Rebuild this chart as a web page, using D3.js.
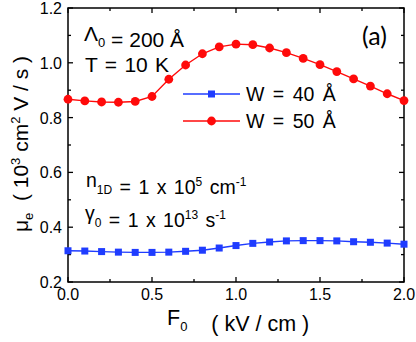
<!DOCTYPE html>
<html>
<head>
<meta charset="utf-8">
<script src="https://cdn.jsdelivr.net/npm/d3@7"></script>
<style>
  body { margin: 0; background: #fff; }
  svg { display: block; font-family: "Liberation Sans", Arial, sans-serif; }
</style>
</head>
<body>
<svg id="chart" width="416" height="342"></svg>
<script>
// field values F0 (kV/cm)
const fieldVals = d3.range(21).map(i => +(i * 0.1).toFixed(1));
// mobility, W = 40 A
const mobW40 = [0.314, 0.313, 0.311, 0.309, 0.308, 0.308, 0.309, 0.312, 0.316, 0.324,
  0.333, 0.341, 0.346, 0.350, 0.351, 0.351, 0.350, 0.347, 0.345, 0.342, 0.338];
// mobility, W = 50 A
const mobW50 = [0.867, 0.861, 0.857, 0.856, 0.859, 0.877, 0.940, 0.992, 1.033, 1.058,
  1.068, 1.066, 1.054, 1.037, 1.016, 0.993, 0.968, 0.941, 0.915, 0.887, 0.862];
const xTicks = [0, 0.5, 1.0, 1.5, 2.0];
const yTicks = [0.2, 0.4, 0.6, 0.8, 1.0, 1.2];

const svg = d3.select("#chart");
const pLeft = 68, pRight = 404, pTop = 8, pBottom = 282;

const x = d3.scaleLinear().domain([0, 2]).range([pLeft, pRight]);
const y = d3.scaleLinear().domain([0.2, 1.2]).range([pBottom, pTop]);

// inward ticks on all four sides
const xMinor = d3.range(0, 2.001, 0.25);
const yMinor = d3.range(0.2, 1.201, 0.1);
const g = svg.append("g").attr("stroke", "#000").attr("stroke-width", 1.3);
xMinor.forEach(v => {
  const major = xTicks.some(t => Math.abs(t - v) < 1e-6);
  const len = major ? 5 : 3;
  g.append("line").attr("x1", x(v)).attr("x2", x(v)).attr("y1", pBottom).attr("y2", pBottom - len);
  g.append("line").attr("x1", x(v)).attr("x2", x(v)).attr("y1", pTop).attr("y2", pTop + len);
});
yMinor.forEach(v => {
  const major = yTicks.some(t => Math.abs(t - v) < 1e-6);
  const len = major ? 5 : 3;
  g.append("line").attr("x1", pLeft).attr("x2", pLeft + len).attr("y1", y(v)).attr("y2", y(v));
  g.append("line").attr("x1", pRight).attr("x2", pRight - len).attr("y1", y(v)).attr("y2", y(v));
});

svg.append("rect")
  .attr("x", pLeft).attr("y", pTop)
  .attr("width", pRight - pLeft).attr("height", pBottom - pTop)
  .attr("fill", "none").attr("stroke", "#000").attr("stroke-width", 1.5);

// tick labels
svg.append("g").selectAll("text").data(xTicks).join("text")
  .attr("x", d => x(d)).attr("y", 300)
  .attr("text-anchor", "middle").attr("font-size", 16)
  .text(d => d.toFixed(1));
svg.append("g").selectAll("text").data(yTicks).join("text")
  .attr("x", 62).attr("y", d => y(d) + 6)
  .attr("text-anchor", "end").attr("font-size", 16)
  .text(d => d.toFixed(1));

// series
const line = d3.line().x((d, i) => x(fieldVals[i])).y(d => y(d));
const blue = "#1f3cff", red = "#ff0a0a";

svg.append("path").datum(mobW50).attr("d", line)
  .attr("fill", "none").attr("stroke", red).attr("stroke-width", 1.4);
svg.append("g").selectAll("circle").data(mobW50).join("circle")
  .attr("cx", (d, i) => x(fieldVals[i])).attr("cy", d => y(d))
  .attr("r", 4.4).attr("fill", red);

svg.append("path").datum(mobW40).attr("d", line)
  .attr("fill", "none").attr("stroke", blue).attr("stroke-width", 1.4);
svg.append("g").selectAll("rect").data(mobW40).join("rect")
  .attr("x", (d, i) => x(fieldVals[i]) - 3.5).attr("y", d => y(d) - 3.5)
  .attr("width", 7).attr("height", 7).attr("fill", blue);

// legend
const legend = svg.append("g");
[[blue, "W = 40 Å", 94, "sq"], [red, "W = 50 Å", 121, "ci"]].forEach(([c, label, ly, m]) => {
  legend.append("line").attr("x1", 183).attr("x2", 240).attr("y1", ly).attr("y2", ly)
    .attr("stroke", c).attr("stroke-width", 1.4);
  if (m === "sq") legend.append("rect").attr("x", 208).attr("y", ly - 3.5).attr("width", 7).attr("height", 7).attr("fill", c);
  else legend.append("circle").attr("cx", 211.5).attr("cy", ly).attr("r", 4.4).attr("fill", c);
  legend.append("text").attr("x", 246).attr("y", ly + 7).attr("font-size", 19.5)
    .attr("word-spacing", 3).text(label);
});

// annotations
function sub(t, s, px, dy = 6) {
  t.append("tspan").attr("font-size", px).attr("dy", dy).text(s);
  t.append("tspan").attr("dy", -dy).text("");
}
let t = svg.append("text").attr("x", 84).attr("y", 41).attr("font-size", 21);
t.append("tspan").text("Λ");
sub(t, "0", 13);
t.append("tspan").text(" = 200 Å");

svg.append("text").attr("x", 85).attr("y", 72).attr("font-size", 21)
  .attr("word-spacing", 1.5).text("T = 10 K");

t = svg.append("text").attr("x", 86).attr("y", 187).attr("font-size", 19.5).attr("word-spacing", 2);
t.append("tspan").text("n");
sub(t, "1D", 12, 7);
t.append("tspan").text(" = 1 x 10");
t.append("tspan").attr("font-size", 12).attr("dy", -8).text("5");
t.append("tspan").attr("dy", 8).text(" cm");
t.append("tspan").attr("font-size", 12).attr("dy", -8).text("-1");

t = svg.append("text").attr("x", 85).attr("y", 220).attr("font-size", 19.5).attr("word-spacing", 2);
t.append("tspan").text("γ");
sub(t, "0", 12, 7);
t.append("tspan").text(" = 1 x 10");
t.append("tspan").attr("font-size", 12).attr("dy", -8).text("13");
t.append("tspan").attr("dy", 8).text(" s");
t.append("tspan").attr("font-size", 12).attr("dy", -8).text("-1");

svg.append("text").attr("x", 362).attr("y", 45).attr("font-size", 25)
  .attr("font-family", "Lato, 'Open Sans', sans-serif").text("(a)");

// x axis title
t = svg.append("text").attr("x", 167).attr("y", 325).attr("font-size", 21.5);
t.append("tspan").text("F");
sub(t, "0", 13);
t.append("tspan").attr("xml:space", "preserve").text("    ( kV / cm )");

// y axis title
t = svg.append("text").attr("transform", "translate(28,144) rotate(-90)")
  .attr("text-anchor", "middle").attr("font-size", 21);
t.append("tspan").text("μ");
t.append("tspan").attr("font-size", 13).attr("dy", 5).text("e");
t.append("tspan").attr("dy", -5).attr("xml:space", "preserve").text("  ( 10");
t.append("tspan").attr("font-size", 13).attr("dy", -8).text("3");
t.append("tspan").attr("dy", 8).text(" cm");
t.append("tspan").attr("font-size", 13).attr("dy", -8).text("2");
t.append("tspan").attr("dy", 8).text(" V / s )");
</script>
</body>
</html>
